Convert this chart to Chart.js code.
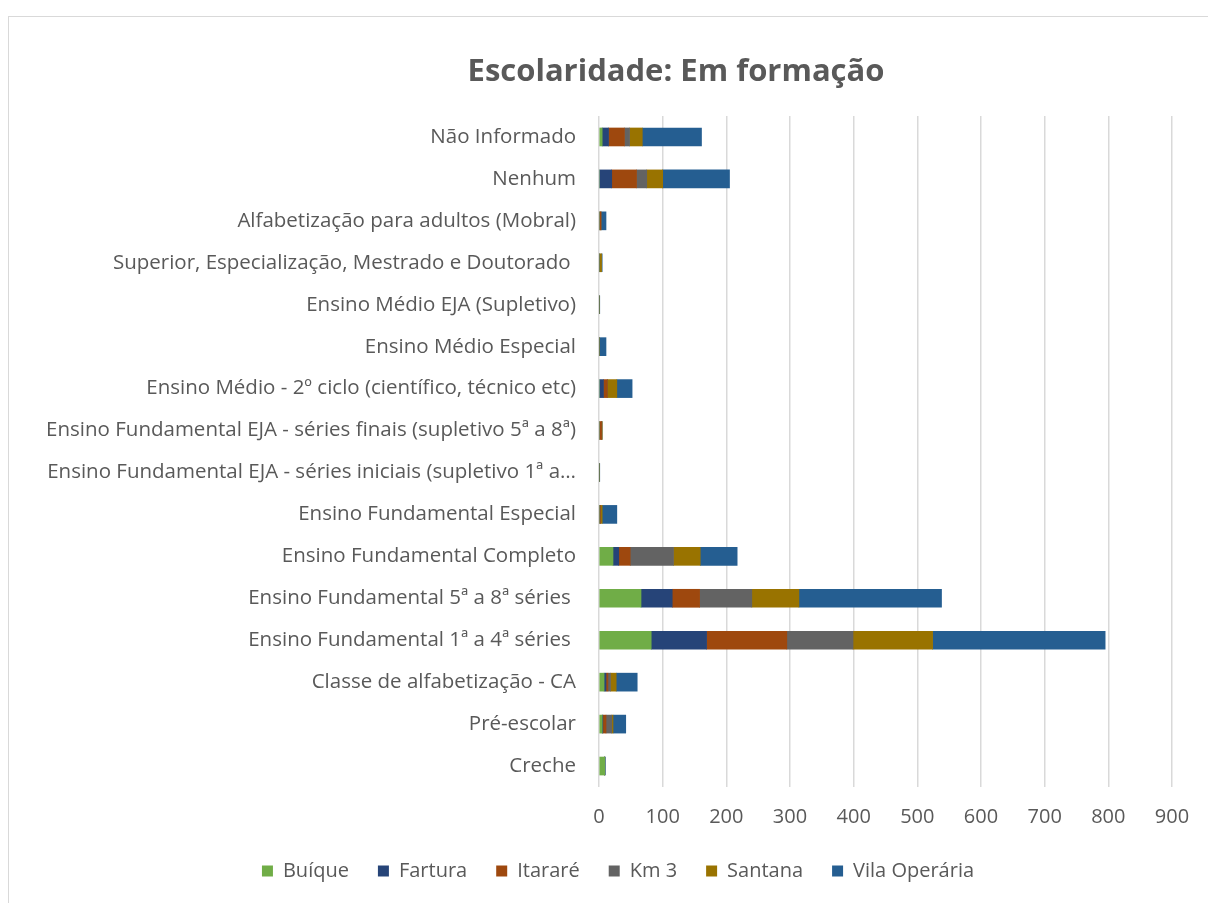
<!DOCTYPE html>
<html>
<head>
<meta charset="utf-8">
<script src="https://cdn.jsdelivr.net/npm/chart.js@4/dist/chart.umd.min.js"></script>
<style>
  html, body { margin: 0; padding: 0; background: #fff; overflow: hidden; }
  #frame { position: absolute; left: 8px; top: 16px; width: 1220px; height: 900px; border: 1px solid #d9d9d9; box-sizing: border-box; }
  #wrap { position: absolute; left: 8px; top: 17px; width: 1220px; height: 886px; }
</style>
</head>
<body>
<div id="frame"></div>
<div id="wrap"><canvas id="c"></canvas></div>
<script>
const categories = [
  "Não Informado",
  "Nenhum",
  "Alfabetização para adultos (Mobral)",
  "Superior, Especialização, Mestrado e Doutorado ",
  "Ensino Médio EJA (Supletivo)",
  "Ensino Médio Especial",
  "Ensino Médio - 2º ciclo (científico, técnico etc)",
  "Ensino Fundamental EJA - séries finais (supletivo 5ª a 8ª)",
  "Ensino Fundamental EJA - séries iniciais (supletivo 1ª a…",
  "Ensino Fundamental Especial",
  "Ensino Fundamental Completo",
  "Ensino Fundamental 5ª a 8ª séries ",
  "Ensino Fundamental 1ª a 4ª séries ",
  "Classe de alfabetização - CA",
  "Pré-escolar",
  "Creche"
];
const buique      = [5, 0, 0, 0, 0, 0, 0, 0, 0, 0, 22, 66, 82, 8, 5, 9];
const fartura     = [10, 20, 0, 0, 0, 0, 7, 0, 0, 0, 9, 49, 87, 3, 1, 0];
const itarare     = [25, 39, 3, 0, 0, 0, 6, 4, 0, 2, 18, 43, 126, 3, 5, 0];
const km3         = [8, 16, 0, 0, 0, 0, 0, 0, 0, 0, 68, 82, 104, 4, 9, 0];
const santana     = [20, 25, 0, 4, 0, 0, 15, 1, 0, 3, 42, 74, 125, 9, 2, 0];
const vilaOperaria= [93, 105, 8, 1, 1, 11, 24, 0, 1, 23, 58, 224, 271, 33, 20, 1];
const xTicks = [0, 100, 200, 300, 400, 500, 600, 700, 800, 900];

const seriesNames = ["Buíque", "Fartura", "Itararé", "Km 3", "Santana", "Vila Operária"];
const seriesData = [buique, fartura, itarare, km3, santana, vilaOperaria];
const colors = ["#70AD47", "#264478", "#9E480E", "#636363", "#997300", "#255E91"];

const FONT = "'Open Sans', sans-serif";
const TXT = "#595959";

const titlePlugin = {
  id: 'customTitle',
  afterDraw(chart) {
    const ctx = chart.ctx;
    ctx.save();
    ctx.font = "bold 31px " + FONT;
    ctx.fillStyle = TXT;
    ctx.textAlign = "center";
    ctx.textBaseline = "middle";
    ctx.fillText("Escolaridade: Em formação", 668, 55);
    ctx.restore();
  }
};

// center the legend on the whole canvas width (not the padded box)
const legendCenter = {
  id: 'legendCenter',
  afterLayout(chart) {
    const l = chart.legend;
    if (l) { l.left = 0; l.right = chart.width; l.width = chart.width; }
  }
};

new Chart(document.getElementById('c'), {
  type: 'bar',
  data: {
    labels: categories,
    datasets: seriesNames.map((n, i) => ({
      label: n,
      data: seriesData[i],
      backgroundColor: colors[i],
      borderWidth: 0,
      barThickness: 18
    }))
  },
  options: {
    indexAxis: 'y',
    responsive: true,
    maintainAspectRatio: false,
    animation: false,
    layout: { padding: { top: 99, right: 56, left: 0, bottom: 12 } },
    scales: {
      x: {
        stacked: true,
        min: 0, max: 900,
        afterBuildTicks(axis) { axis.ticks = xTicks.map(v => ({ value: v })); },
        afterFit(axis) { axis.height = 45; },
        grid: { color: "#d9d9d9", lineWidth: 1.5, drawTicks: false },
        border: { display: false },
        ticks: { color: TXT, font: { family: FONT, size: 20 }, padding: 18 }
      },
      y: {
        stacked: true,
        afterFit(axis) { axis.width = 591; },
        grid: { display: false, drawTicks: false },
        border: { display: false },
        ticks: { color: TXT, font: { family: FONT, size: 20.5 }, padding: 23, autoSkip: false }
      }
    },
    plugins: {
      legend: {
        position: 'bottom',
        labels: { color: TXT, font: { family: FONT, size: 20 }, boxWidth: 11, boxHeight: 11, padding: 29 }
      },
      tooltip: { enabled: false }
    }
  },
  plugins: [titlePlugin, legendCenter]
});
</script>
</body>
</html>
